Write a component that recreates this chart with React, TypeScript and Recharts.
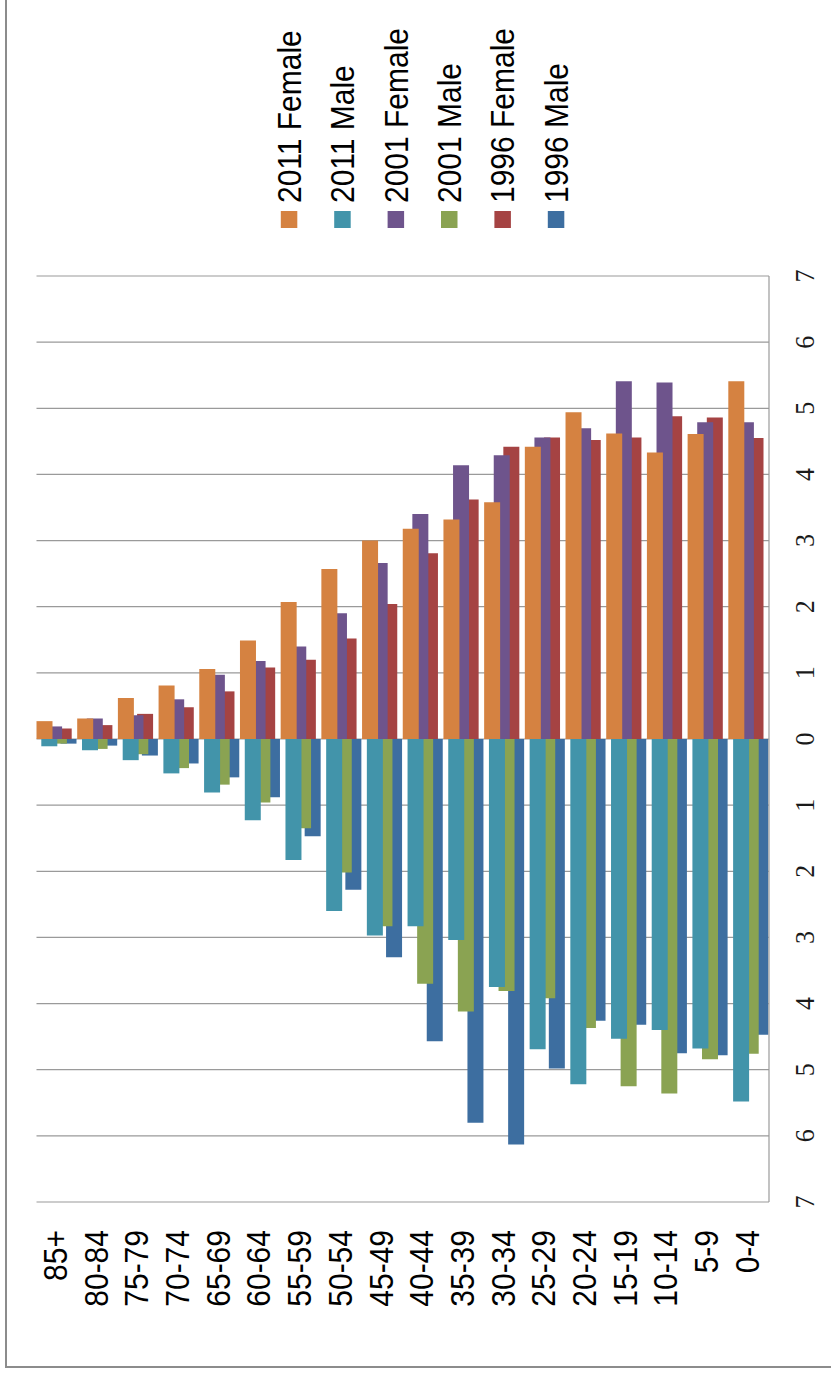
import React from 'react';
import { BarChart, Bar, XAxis, YAxis, CartesianGrid } from 'recharts';

// age groups, oldest first (left to right in the rotated picture)
const ageGroups = [
  '85+', '80-84', '75-79', '70-74', '65-69', '60-64', '55-59', '50-54', '45-49',
  '40-44', '35-39', '30-34', '25-29', '20-24', '15-19', '10-14', '5-9', '0-4',
];

// percent of population
const female2011 = [0.27, 0.31, 0.62, 0.81, 1.06, 1.49, 2.07, 2.57, 3.0, 3.18, 3.32, 3.58, 4.42, 4.94, 4.62, 4.33, 4.61, 5.41];
const male2011 = [0.11, 0.17, 0.32, 0.52, 0.81, 1.23, 1.83, 2.6, 2.97, 2.83, 3.04, 3.75, 4.69, 5.22, 4.53, 4.4, 4.68, 5.48];
const female2001 = [0.19, 0.31, 0.36, 0.6, 0.97, 1.18, 1.4, 1.9, 2.66, 3.4, 4.14, 4.29, 4.56, 4.7, 5.41, 5.39, 4.79, 4.79];
const male2001 = [0.07, 0.15, 0.23, 0.44, 0.69, 0.96, 1.35, 2.02, 2.83, 3.7, 4.12, 3.81, 3.92, 4.37, 5.25, 5.36, 4.84, 4.76];
const female1996 = [0.16, 0.21, 0.38, 0.48, 0.72, 1.08, 1.2, 1.52, 2.04, 2.81, 3.62, 4.42, 4.56, 4.52, 4.56, 4.88, 4.86, 4.55];
const male1996 = [0.07, 0.1, 0.25, 0.37, 0.58, 0.88, 1.47, 2.28, 3.3, 4.57, 5.8, 6.13, 4.98, 4.26, 4.32, 4.75, 4.78, 4.47];

const valueTicks = [-7, -6, -5, -4, -3, -2, -1, 0, 1, 2, 3, 4, 5, 6, 7];

const series = [
  { key: 'f2011', name: '2011 Female', color: '#D58241' },
  { key: 'm2011', name: '2011 Male', color: '#4294AA' },
  { key: 'f2001', name: '2001 Female', color: '#6E548C' },
  { key: 'm2001', name: '2001 Male', color: '#8AA352' },
  { key: 'f1996', name: '1996 Female', color: '#A54343' },
  { key: 'm1996', name: '1996 Male', color: '#3D6EA0' },
];

const data = ageGroups.map((age, i) => ({
  age,
  f2011: female2011[i],
  m2011: -male2011[i],
  f2001: female2001[i],
  m2001: -male2001[i],
  f1996: female1996[i],
  m1996: -male1996[i],
}));

const SANS = '"Liberation Sans", Arial, sans-serif';
const SERIF = '"Liberation Serif", "Times New Roman", serif';

const AgeTick = (props: any) => {
  const { x, y, payload } = props;
  return (
    <g transform={`translate(${x},${y + 28}) rotate(-90) scale(1,1.08)`}>
      <text textAnchor="end" dy={9.4} fontSize={30} fontFamily={SANS} fill="#000">
        {payload.value}
      </text>
    </g>
  );
};

const ValueTick = (props: any) => {
  const { x, y, payload } = props;
  return (
    <g transform={`translate(${x + 45},${y}) rotate(-90) scale(1,1.05)`}>
      <text textAnchor="middle" fontSize={26} fontFamily={SERIF} fill="#1a1a1a">
        {Math.abs(payload.value)}
      </text>
    </g>
  );
};

const RotatedLegend = () => (
  <svg width={831} height={260} style={{ position: 'absolute', left: 0, top: 0, pointerEvents: 'none' }}>
    {series.map((s, i) => {
      const cx = 289 + i * 53.4;
      return (
        <g key={s.key}>
          <rect x={cx - 8.2} y={211} width={16.5} height={17} fill={s.color} />
          <g transform={`translate(${cx},203) rotate(-90) scale(1,1.1)`}>
            <text textAnchor="start" dy={10.7} fontSize={30} fontFamily={SANS} fill="#000">
              {s.name}
            </text>
          </g>
        </g>
      );
    })}
  </svg>
);

export default function App() {
  // bars declared last-to-first so the earlier series sit on top;
  // the negative gap steps each bar back to the left inside its band
  const drawOrder = [...series].reverse();
  return (
    <div style={{ position: 'absolute', left: 0, top: 0, width: 831, height: 1373, overflow: 'hidden', background: '#fff' }}>
      <div
        style={{
          position: 'absolute',
          left: 5,
          top: -10,
          width: 900,
          height: 1376,
          borderLeft: '2px solid #8c8c8c',
          borderBottom: '2px solid #8c8c8c',
        }}
      />
      <BarChart
        width={831}
        height={1373}
        data={data}
        margin={{ top: 276, right: 0, left: 36.5, bottom: 0 }}
        barSize={16}
        barGap={-20.8}
      >
        <CartesianGrid horizontal vertical={false} stroke="#9a9a9a" strokeWidth={1.2} />
        <XAxis
          dataKey="age"
          interval={0}
          height={171}
          axisLine={false}
          tickLine={false}
          tickSize={0}
          tickMargin={0}
          tick={<AgeTick />}
        />
        <YAxis
          orientation="right"
          type="number"
          domain={[-7, 7]}
          ticks={valueTicks}
          interval={0}
          width={62}
          axisLine={{ stroke: '#9a9a9a', strokeWidth: 1.2 }}
          tickLine={false}
          tickSize={0}
          tickMargin={0}
          tick={<ValueTick />}
        />
        {drawOrder.map((s) => (
          <Bar key={s.key} dataKey={s.key} name={s.name} fill={s.color} barSize={16} isAnimationActive={false} />
        ))}
      </BarChart>
      <RotatedLegend />
    </div>
  );
}
